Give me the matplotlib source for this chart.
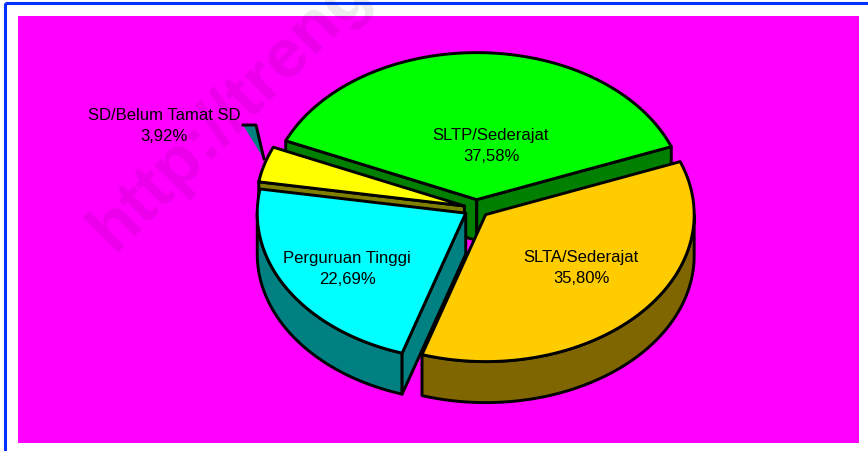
import numpy as np
import matplotlib.pyplot as plt
from matplotlib.patches import Polygon, Rectangle

labels = ["SLTP/Sederajat", "SLTA/Sederajat", "Perguruan Tinggi", "SD/Belum Tamat SD"]
values = [37.58, 35.80, 22.69, 3.92]
top_colors = ["#00FF00", "#FFCC00", "#00FFFF", "#FFFF00"]
side_colors = ["#007F00", "#7F6600", "#008080", "#7F7F00"]
label_pos = [(491, 146), (581, 268), (347, 269), (164, 126)]
# back to front
draw_order = [0, 3, 2, 1]

# pie geometry in pixels
CX, CY = 476.5, 209.5
RX, RY = 208.5, 147
DEPTH = 41
EXPLODE = 12.6
START = 156.4
LW = 2.1

plt.rcParams['font.family'] = ['Liberation Sans', 'DejaVu Sans']

fig = plt.figure(figsize=(8.68, 4.52), dpi=100)
ax = fig.add_axes([0, 0, 1, 1])
ax.set_xlim(0, 868)
ax.set_ylim(452, 0)
ax.axis('off')

# frame and plot area
ax.add_patch(Rectangle((5, 4), 900, 600, fc='none', ec='#0033FF', lw=2.2, zorder=1))
ax.add_patch(Rectangle((18, 17), 841, 427, fc='#FF00FF', ec='none', zorder=1))

# watermark
ax.text(100, 240, "http://trengg", rotation=45, rotation_mode='anchor', fontsize=50,
        fontweight='bold', ha='left', va='center', color='black', alpha=0.08, zorder=2)


def arc(cx, cy, a1, a2):
    t = np.radians(np.linspace(a1, a2, 100))
    return np.column_stack([cx + RX * np.cos(t), cy - RY * np.sin(t)])


starts = START - np.concatenate([[0], np.cumsum(values)[:-1]]) * 3.6
ends = START - np.cumsum(values) * 3.6

z = 3
for i in draw_order:
    a1, a2 = starts[i], ends[i]
    top, side = top_colors[i], side_colors[i]
    mid = np.radians((a1 + a2) / 2)
    cx = CX + EXPLODE * np.cos(mid)
    cy = CY - EXPLODE * RY / RX * np.sin(mid)
    apex = np.array([[cx, cy]])
    down = np.array([0, DEPTH])

    # outer wall, only the part on the front half of the ellipse
    for lo, hi in [(-180, 0), (-540, -360)]:
        w2, w1 = max(a2, lo), min(a1, hi)
        if w1 > w2:
            rim = arc(cx, cy, w1, w2)
            ax.add_patch(Polygon(np.vstack([rim, rim[::-1] + down]), fc=side, ec='black',
                                 lw=LW, joinstyle='round', zorder=z))

    # cut faces which turn towards the viewer
    for edge, normal in [(a1, a1 + 90), (a2, a2 - 90)]:
        if np.sin(np.radians(normal)) < 0:
            end = arc(cx, cy, edge, edge)[:1]
            face = np.vstack([apex, end, end + down, apex + down])
            ax.add_patch(Polygon(face, fc=side, ec='black', lw=LW, joinstyle='round', zorder=z))

    ax.add_patch(Polygon(np.vstack([apex, arc(cx, cy, a1, a2)]), fc=top, ec='black',
                         lw=LW, joinstyle='round', zorder=z))
    z += 1

# leader of the small slice
ax.add_patch(Polygon([(243, 126), (256, 126), (264, 160)], fc='#008080', ec='none', zorder=2.5))
ax.plot([243, 256, 264], [126, 126, 160], color='black', lw=LW, zorder=2.5)

for name, value, pos in zip(labels, values, label_pos):
    text = name + "\n" + f"{value:.2f}".replace('.', ',') + "%"
    ax.text(pos[0], pos[1], text, ha='center', va='center', fontsize=12,
            linespacing=1.55, color='black', zorder=z + 1)

fig.savefig('out.png', dpi=100)
